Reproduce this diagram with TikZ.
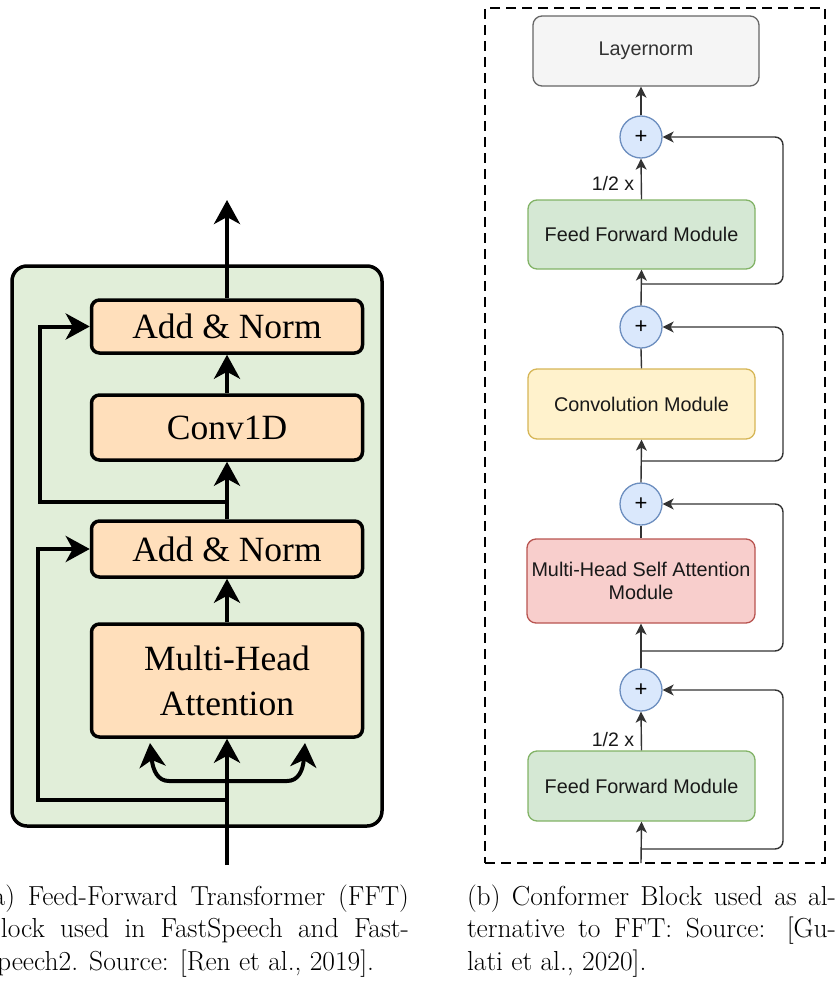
\documentclass[tikz,border=0pt]{standalone}
\usepackage{fontspec}
\newfontfamily\diagserif{Liberation Serif}
\newfontfamily\diagsans{Liberation Sans}
\usetikzlibrary{arrows.meta}
\definecolor{ffgreen}{RGB}{225,238,217}
\definecolor{peach}{RGB}{255,223,187}
\definecolor{lnfill}{HTML}{F5F5F5}
\definecolor{lndraw}{HTML}{666666}
\definecolor{lntext}{HTML}{333333}
\definecolor{gfill}{HTML}{D5E8D4}
\definecolor{gdraw}{HTML}{82B366}
\definecolor{yfill}{HTML}{FFF2CC}
\definecolor{ydraw}{HTML}{D6B656}
\definecolor{rfill}{HTML}{F8CECC}
\definecolor{rdraw}{HTML}{B85450}
\definecolor{bfill}{HTML}{DAE8FC}
\definecolor{bdraw}{HTML}{6C8EBF}
\definecolor{rline}{HTML}{333333}
\begin{document}
\begin{tikzpicture}[x=1pt,y=-1pt,
  outerbox/.style={draw=black, line width=3.5pt, fill=ffgreen, rounded corners=15pt, inner sep=0pt},
  peachbox/.style={draw=black, line width=3.5pt, fill=peach, rounded corners=8pt, inner sep=0pt,
    minimum width=271pt, font=\diagserif\fontsize{35.5}{44}\selectfont, align=center},
  bigarrow/.style={draw=black, line width=4pt, -{Stealth[length=24pt,width=26pt,inset=7pt]}},
  dashbox/.style={draw=black, line width=2.8pt, dash pattern=on 10pt off 6pt, inner sep=0pt},
  modbox/.style={rounded corners=9pt, line width=1.3pt, inner sep=0pt, minimum width=227pt,
    minimum height=70pt, font=\diagsans\fontsize{19.8}{23.5}\selectfont, align=center, text=black!90},
  addcirc/.style={circle, draw=bdraw, fill=bfill, line width=1.3pt, minimum size=42pt, inner sep=0pt,
    font=\diagsans\fontsize{22}{22}\selectfont},
  rarrow/.style={draw=rline, line width=1.4pt, -{Stealth[length=11pt,width=11pt,inset=3pt]}},
  rline/.style={draw=rline, line width=1.4pt},
  halflabel/.style={font=\diagsans\fontsize{19.5}{22}\selectfont, inner sep=0pt, text=black!90},
  captext/.style={font=\fontsize{27.5}{33}\selectfont, inner sep=0pt, outer sep=0pt, anchor=base west}
]
\clip (0,0) rectangle (838,983);

% ---------------- (a) FFT block ----------------
\node[outerbox, minimum width=370pt, minimum height=560pt] (fft) at (197,546) {};
\node[peachbox, minimum height=53pt] (an1) at (227,326.5) {Add \& Norm};
\node[peachbox, minimum height=65pt] (conv) at (227,427.5) {Conv1D};
\node[peachbox, minimum height=56pt] (an2) at (227,549) {Add \& Norm};
\node[peachbox, minimum height=113pt] (mha) at (227,680.5) {Multi-Head\\[1pt]Attention};

\coordinate (outa) at (227,200);
\coordinate (ina) at (227,865);
\coordinate (r1) at (227,502);
\coordinate (r2) at (227,800);
\coordinate (sk1) at (40,0);
\coordinate (sk2) at (38,0);
\coordinate (br0) at (227,781);
\coordinate (tipl) at (150,743);
\coordinate (tipr) at (305,743);

\draw[bigarrow] (an1.north) -- (outa);
\draw[bigarrow] (conv.north) -- (an1.south);
\draw[bigarrow] (an2.north) -- (conv.south);
\draw[bigarrow] (mha.north) -- (an2.south);
\draw[bigarrow] (ina) -- (mha.south);
\draw[bigarrow] (r1) -- (r1 -| sk1) |- (an1.west);
\draw[bigarrow] (r2) -- (r2 -| sk2) |- (an2.west);
\draw[bigarrow] (br0) -- (169,781) .. controls (158,781) and (153,771) .. (tipl);
\draw[bigarrow] (br0) -- (287,781) .. controls (298,781) and (303,771) .. (tipr);

% ---------------- (b) Conformer block ----------------
\node[dashbox, minimum width=340pt, minimum height=855pt] (cb) at (655,435.5) {};
\node[modbox, draw=lndraw, fill=lnfill, text=lntext, minimum width=226pt] (ln) at (646,51) {Layernorm};
\node[modbox, draw=gdraw, fill=gfill, minimum height=69pt] (ff1) at (641.5,234.5) {Feed Forward Module};
\node[modbox, draw=ydraw, fill=yfill] (cv) at (641.5,404) {Convolution Module};
\node[modbox, draw=rdraw, fill=rfill, minimum width=228pt, minimum height=84pt] (mhsa) at (641,581) {Multi-Head Self Attention\\Module};
\node[modbox, draw=gdraw, fill=gfill] (ff2) at (641.5,786) {Feed Forward Module};

\node[addcirc] (c1) at (641,137) {+};
\node[addcirc] (c2) at (641,327) {+};
\node[addcirc] (c3) at (641,504) {+};
\node[addcirc] (c4) at (641,690) {+};

\coordinate (inb) at (641,863);
\coordinate (q1) at (641,284);
\coordinate (q2) at (641,461);
\coordinate (q3) at (641,651);
\coordinate (q4) at (641,849);
\coordinate (rx) at (783,0);

\draw[rarrow] (inb) -- (ff2.south);
\draw[rarrow] (ff2.north) -- (c4.south);
\draw[rarrow] (c4.north) -- (mhsa.south);
\draw[rline] (mhsa.north) -- (c3.south);
\draw[rarrow] (c3.north) -- (cv.south);
\draw[rline] (cv.north) -- (c2.south);
\draw[rarrow] (c2.north) -- (ff1.south);
\draw[rarrow] (ff1.north) -- (c1.south);
\draw[rarrow] (c1.north) -- (c1.north |- ln.south);

\draw[rarrow, rounded corners=8pt] (q4) -- (q4 -| rx) |- (c4.east);
\draw[rarrow, rounded corners=8pt] (q3) -- (q3 -| rx) |- (c3.east);
\draw[rarrow, rounded corners=8pt] (q2) -- (q2 -| rx) |- (c2.east);
\draw[rarrow, rounded corners=8pt] (q1) -- (q1 -| rx) |- (c1.east);

\node[halflabel] (h1) at (613,184) {1/2 x};
\node[halflabel] (h2) at (613,740) {1/2 x};

% ---------------- captions ----------------
\node[captext] (ca1) at (-17,905) {\hbox to 426pt{(a) Feed-Forward Transformer (FFT)}};
\node[captext] (ca2) at (-17,937.5) {\hbox to 426pt{Block used in FastSpeech and Fast-}};
\node[captext] (ca3) at (-17,970) {Speech2. Source: [Ren et al., 2019].};
\node[captext] (cb1) at (467,905) {\hbox to 369pt{(b) Conformer Block used as al-}};
\node[captext] (cb2) at (467,937.5) {\hbox to 369pt{ternative to FFT: Source: [Gu-}};
\node[captext] (cb3) at (467,970) {lati et al., 2020].};
\end{tikzpicture}
\end{document}
